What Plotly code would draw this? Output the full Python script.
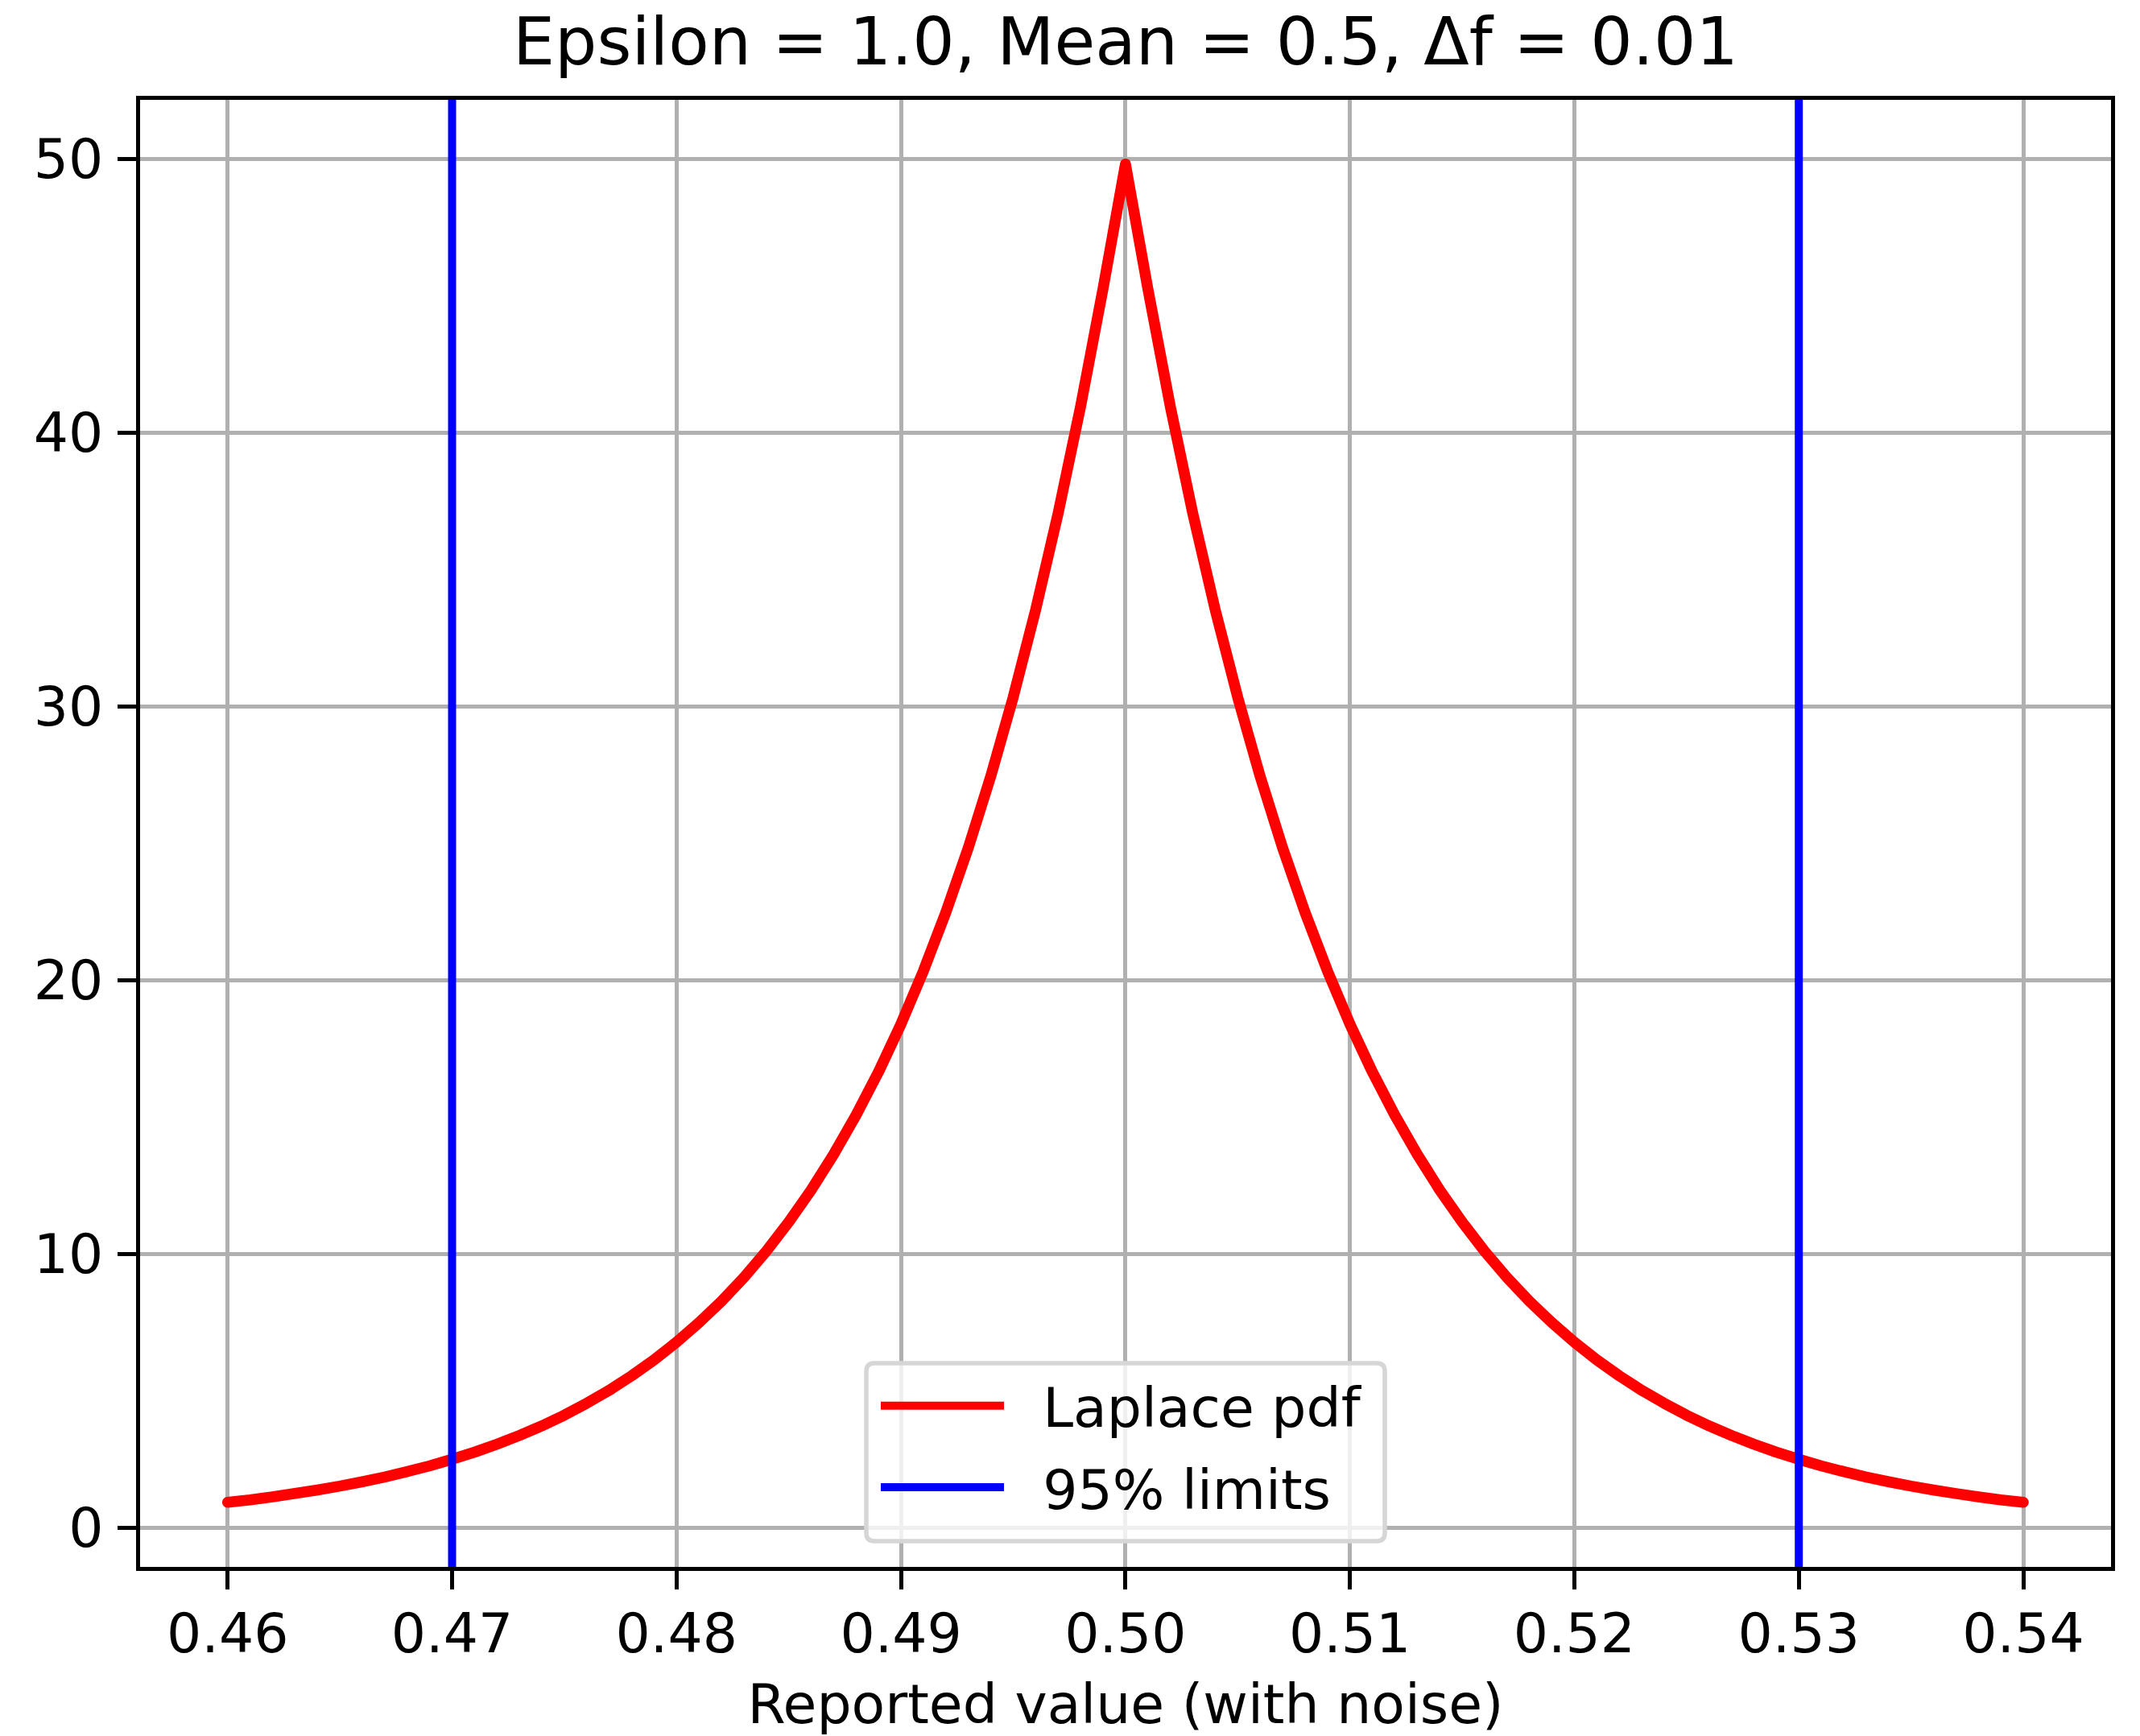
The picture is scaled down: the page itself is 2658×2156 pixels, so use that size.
import plotly.graph_objects as go

# ---- data ----
x_values = [
    0.460, 0.461, 0.462, 0.463, 0.464, 0.465, 0.466, 0.467, 0.468, 0.469,
    0.470, 0.471, 0.472, 0.473, 0.474, 0.475, 0.476, 0.477, 0.478, 0.479,
    0.480, 0.481, 0.482, 0.483, 0.484, 0.485, 0.486, 0.487, 0.488, 0.489,
    0.490, 0.491, 0.492, 0.493, 0.494, 0.495, 0.496, 0.497, 0.498, 0.499,
    0.500,
    0.501, 0.502, 0.503, 0.504, 0.505, 0.506, 0.507, 0.508, 0.509, 0.510,
    0.511, 0.512, 0.513, 0.514, 0.515, 0.516, 0.517, 0.518, 0.519, 0.520,
    0.521, 0.522, 0.523, 0.524, 0.525, 0.526, 0.527, 0.528, 0.529, 0.530,
    0.531, 0.532, 0.533, 0.534, 0.535, 0.536, 0.537, 0.538, 0.539, 0.540,
]
pdf_values = [
    0.92, 1.01, 1.12, 1.24, 1.37, 1.51, 1.67, 1.84, 2.04, 2.25,
    2.49, 2.75, 3.04, 3.36, 3.71, 4.10, 4.54, 5.01, 5.54, 6.12,
    6.77, 7.48, 8.26, 9.13, 10.09, 11.16, 12.33, 13.63, 15.06, 16.64,
    18.39, 20.33, 22.47, 24.83, 27.44, 30.33, 33.52, 37.04, 40.94, 45.24,
    49.80,
    45.24, 40.94, 37.04, 33.52, 30.33, 27.44, 24.83, 22.47, 20.33, 18.39,
    16.64, 15.06, 13.63, 12.33, 11.16, 10.09, 9.13, 8.26, 7.48, 6.77,
    6.12, 5.54, 5.01, 4.54, 4.10, 3.71, 3.36, 3.04, 2.75, 2.49,
    2.25, 2.04, 1.84, 1.67, 1.51, 1.37, 1.24, 1.12, 1.01, 0.92,
]
limit_values = [0.47, 0.53]

x_tick_values = [0.46, 0.47, 0.48, 0.49, 0.50, 0.51, 0.52, 0.53, 0.54]
x_tick_labels = ["0.46", "0.47", "0.48", "0.49", "0.50", "0.51", "0.52", "0.53", "0.54"]
y_tick_values = [0, 10, 20, 30, 40, 50]
y_tick_labels = ["0", "10", "20", "30", "40", "50"]

title_text = "Epsilon = 1.0, Mean = 0.5, Δf = 0.01"
x_label = "Reported value (with noise)"
series_names = ["Laplace pdf", "95% limits"]

FONT = "DejaVu Sans"
PAD = "\u00a0\u00a0"  # gap between legend sample line and label

W, H = 2658, 2156
ML, MR, MT, MB = 174, 36, 124, 210
PW, PH = W - ML - MR, H - MT - MB

fig = go.Figure()
fig.add_trace(go.Scatter(
    x=x_values, y=pdf_values, mode="lines", name=PAD + series_names[0],
    line=dict(color="#ff0000", width=13.6, simplify=False),
    legendrank=1, legendgroup="pdf",
))
for i, xv in enumerate(limit_values):
    fig.add_shape(
        type="line", xref="x", yref="y domain", x0=xv, x1=xv, y0=0, y1=1,
        line=dict(color="#0000ff", width=10), layer="above",
        name=PAD + series_names[1], showlegend=(i == 0), legendrank=2,
        legendgroup="limits",
    )


def px_x(p):
    return (p - ML) / PW


def px_y(p):
    return (H - MB - p) / PH


# legend frame (rounded, semi-transparent) in paper coordinates
lx0, lx1 = px_x(1076), px_x(1720)
ly0, ly1 = px_y(1914), px_y(1693)
rx, ry = 10 / PW, 10 / PH
frame_path = (
    f"M {lx0 + rx},{ly1} L {lx1 - rx},{ly1} Q {lx1},{ly1} {lx1},{ly1 - ry} "
    f"L {lx1},{ly0 + ry} Q {lx1},{ly0} {lx1 - rx},{ly0} "
    f"L {lx0 + rx},{ly0} Q {lx0},{ly0} {lx0},{ly0 + ry} "
    f"L {lx0},{ly1 - ry} Q {lx0},{ly1} {lx0 + rx},{ly1} Z"
)
fig.add_shape(type="path", xref="paper", yref="paper", path=frame_path,
              fillcolor="rgba(255,255,255,0.8)", line=dict(color="#d6d6d6", width=5.5),
              layer="above")

axis_common = dict(
    showline=True, linecolor="black", linewidth=5, mirror=True,
    ticks="outside", tickcolor="black", tickwidth=5, ticklen=23,
    showgrid=True, gridcolor="#b0b0b0", gridwidth=4.5, zeroline=False,
    tickfont=dict(family=FONT, size=68, color="black"),
    automargin=False,
)

fig.update_layout(
    width=W, height=H,
    margin=dict(l=ML, r=MR, t=MT, b=MB, autoexpand=False),
    paper_bgcolor="white", plot_bgcolor="white",
    font=dict(family=FONT, color="black"),
    title=dict(text=title_text, x=0.5, xanchor="center", xref="paper",
               y=1 - 51 / H, yanchor="middle", yref="container",
               font=dict(family=FONT, size=82.5, color="black")),
    xaxis=dict(range=[0.4561, 0.54391], tickvals=x_tick_values, ticktext=x_tick_labels,
               ticklabelstandoff=-4,
               title=dict(text=x_label, font=dict(family=FONT, size=68, color="black"), standoff=44),
               **axis_common),
    yaxis=dict(range=[-1.441, 52.147], tickvals=y_tick_values, ticktext=y_tick_labels,
               ticklabelstandoff=4, **axis_common),
    legend=dict(x=px_x(1089), y=px_y(1695), xanchor="left", yanchor="top",
                bgcolor="rgba(0,0,0,0)", borderwidth=0,
                font=dict(family=FONT, size=68, color="black"),
                itemwidth=153, tracegroupgap=10),
    showlegend=True,
)

post = (
    "document.body.style.margin='0';"
    "document.querySelectorAll('.scatterlayer path.js-line').forEach(function(p){"
    "p.style.strokeLinejoin='round';p.style.strokeLinecap='round';});"
)
fig.write_html("out.html", post_script=post, config={"displayModeBar": False})
